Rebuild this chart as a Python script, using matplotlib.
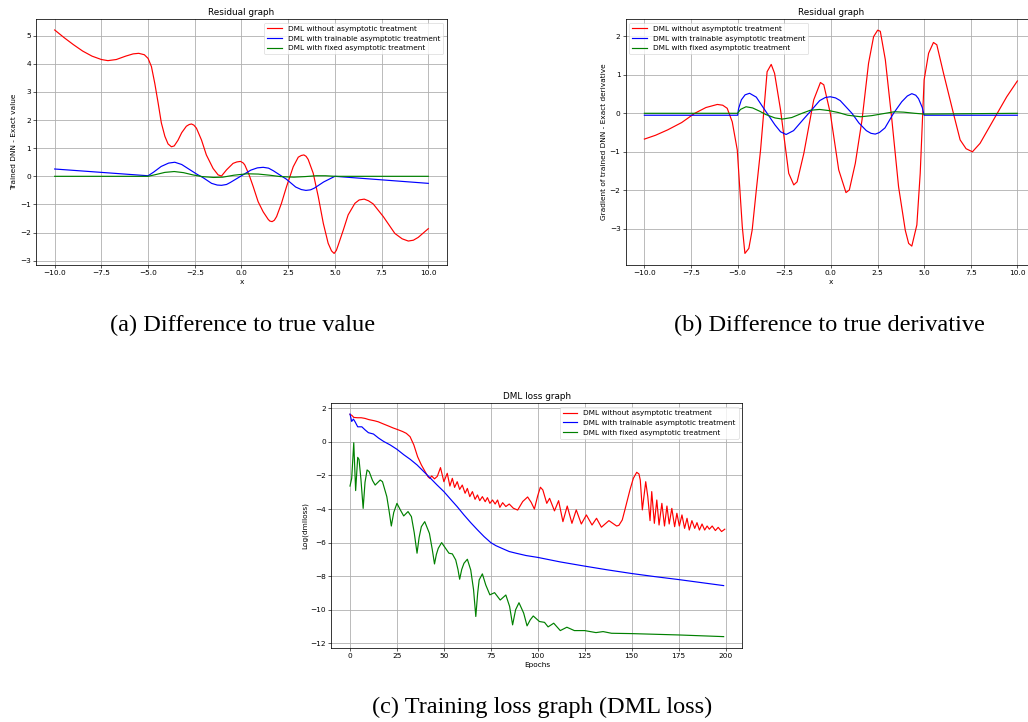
import matplotlib
matplotlib.use("Agg")
import matplotlib.pyplot as plt

# ---- (a) residual of value ----
a_red_x = [-10, -9.5, -9, -8.5, -8, -7.5, -7.15, -6.7, -6.2, -5.8, -5.5, -5.2, -5.0,
           -4.82, -4.64, -4.46, -4.29, -4.1, -3.93, -3.75, -3.6, -3.4, -3.2, -2.95, -2.8, -2.68,
           -2.55, -2.41, -2.14, -1.88, -1.52, -1.25, -1.07, -0.8, -0.45, -0.25, -0.05, 0.1, 0.18,
           0.41, 0.63, 0.89, 1.16, 1.43, 1.52, 1.64, 1.76, 1.88, 2.14, 2.41, 2.77, 3.04, 3.2, 3.34,
           3.46, 3.57, 3.84, 4.11, 4.38, 4.64, 4.82, 4.96, 5.08, 5.18, 5.45, 5.71, 6.07, 6.3, 6.57,
           6.8, 7.05, 7.59, 8.21, 8.6, 8.93, 9.2, 9.46, 10.0]
a_red_y = [5.20, 4.93, 4.68, 4.45, 4.27, 4.15, 4.11, 4.15, 4.27, 4.35, 4.37, 4.32, 4.19,
           3.90, 3.30, 2.60, 1.90, 1.42, 1.15, 1.05, 1.08, 1.28, 1.55, 1.78, 1.84, 1.86,
           1.82, 1.71, 1.29, 0.76, 0.28, 0.05, 0.01, 0.23, 0.46, 0.51, 0.53, 0.47, 0.40,
           0.05, -0.37, -0.90, -1.26, -1.53, -1.59, -1.61, -1.56, -1.43, -0.96, -0.37, 0.34, 0.68,
           0.74, 0.76, 0.71, 0.60, 0.11, -0.72, -1.67, -2.38, -2.65, -2.74, -2.63, -2.44, -1.91,
           -1.37, -0.96, -0.84, -0.81, -0.87, -0.98, -1.43, -2.03, -2.22, -2.30, -2.27, -2.17, -1.86]

a_blue_x = [-10, -5.0, -4.7, -4.3, -3.9, -3.57, -3.2, -2.8, -2.4, -2.05, -1.6, -1.3, -1.07,
            -0.8, -0.6, -0.05, 0.5, 0.85, 1.16, 1.45, 1.7, 2.4, 2.9, 3.2, 3.45, 3.7, 3.9, 4.4,
            5.0, 10]
a_blue_y = [0.26, 0.02, 0.15, 0.35, 0.47, 0.50, 0.42, 0.25, 0.08, -0.05, -0.25, -0.31, -0.32,
            -0.29, -0.22, 0.0, 0.22, 0.30, 0.32, 0.29, 0.20, -0.10, -0.38, -0.47, -0.50, -0.48,
            -0.42, -0.20, 0.0, -0.25]

a_green_x = [-10, -5.0, -4.6, -4.1, -3.6, -3.1, -2.6, -2.1, -1.5, -1.0, -0.4, 0.3, 0.9, 1.5,
             2.1, 2.8, 3.4, 4.0, 4.5, 5.0, 10]
a_green_y = [0, 0, 0.06, 0.14, 0.17, 0.13, 0.05, -0.01, -0.04, -0.03, 0.04, 0.09, 0.08, 0.04,
             -0.01, -0.03, -0.01, 0.02, 0.02, 0.0, 0]

# ---- (b) residual of derivative ----
b_red_x = [-10, -9.4, -8.75, -8.0, -7.3, -6.7, -6.09, -5.8, -5.56, -5.29, -5.02, -4.75, -4.61,
           -4.4, -4.22, -4.0, -3.77, -3.42, -3.2, -3.02, -2.7, -2.26, -1.99, -1.81, -1.45,
           -0.92, -0.56, -0.38, -0.03, 0.42, 0.81, 0.99, 1.31, 1.67, 2.02, 2.29, 2.51, 2.65,
           2.92, 3.27, 3.63, 3.99, 4.17, 4.34, 4.61, 4.79, 5.0, 5.24, 5.5, 5.68, 6.04, 6.57,
           6.93, 7.25, 7.59, 8.0, 8.72, 9.43, 10]
b_red_y = [-0.67, -0.57, -0.43, -0.24, 0.0, 0.15, 0.23, 0.21, 0.13, -0.22, -0.95, -2.95, -3.64,
           -3.51, -3.03, -2.0, -0.95, 1.08, 1.27, 1.04, 0.09, -1.56, -1.86, -1.78, -1.04,
           0.35, 0.80, 0.74, 0.0, -1.47, -2.06, -1.99, -1.30, -0.17, 1.30, 1.99, 2.16, 2.13,
           1.39, -0.17, -1.91, -3.04, -3.38, -3.45, -2.90, -1.56, 0.87, 1.56, 1.84, 1.78, 1.04, 0.0,
           -0.69, -0.92, -1.0, -0.78, -0.17, 0.43, 0.84]

b_blue_x = [-10, -5.0, -4.95, -4.8, -4.6, -4.36, -4.0, -3.7, -3.42, -3.0, -2.7, -2.4, -2.0,
            -1.5, -1.19, -0.6, -0.3, -0.03, 0.25, 0.5, 1.13, 1.5, 1.9, 2.15, 2.38, 2.6, 2.9,
            3.36, 3.8, 4.1, 4.34, 4.55, 4.7, 4.9, 5.0, 10]
b_blue_y = [-0.05, -0.05, 0.12, 0.35, 0.48, 0.52, 0.42, 0.20, 0.0, -0.30, -0.48, -0.55, -0.45,
            -0.17, 0.0, 0.33, 0.41, 0.43, 0.40, 0.33, 0.0, -0.25, -0.45, -0.52, -0.54, -0.50,
            -0.38, 0.0, 0.30, 0.45, 0.51, 0.47, 0.38, 0.15, -0.05, -0.05]

b_green_x = [-10, -5.0, -4.85, -4.55, -4.2, -3.8, -3.5, -3.0, -2.6, -2.1, -1.6, -1.1, -0.6,
             -0.1, 0.4, 0.9, 1.6, 2.2, 2.8, 3.4, 3.9, 4.5, 5.0, 10]
b_green_y = [0.0, 0.0, 0.10, 0.17, 0.14, 0.05, -0.03, -0.12, -0.15, -0.11, -0.01, 0.08, 0.10,
             0.07, 0.02, -0.05, -0.09, -0.06, -0.01, 0.04, 0.03, 0.0, -0.02, 0.0]

# ---- (c) DML loss ----
c_red_x = [0, 1, 2, 4, 6, 8, 10, 13, 15, 18, 20, 23, 25, 28, 30, 32, 34, 36, 38, 40, 41.5,
           42.5, 43.5, 45, 46.5, 48.2, 50, 51.8, 53.2, 54.5, 55.7, 57.1, 58.4, 59.8, 61.3, 62.5,
           63.8, 65.2, 66.6, 67.9, 69.1, 70.5, 72, 73.2, 74.5, 75.9, 77.3, 78.6, 79.8, 81.3, 83,
           84.8, 87, 89.3, 92, 94.6, 96.5, 98.2, 100, 101.4, 102.7, 104.8, 106.3, 108.9, 111.1,
           113.4, 115.7, 118.2, 120.5, 123.2, 125.9, 128.9, 131.3, 133.9, 137.9, 142.0, 143.2,
           145.0, 146.4, 149.1, 150.9, 152.7, 153.9, 154.6, 155.7, 157.5, 158.6, 159.8, 160.7,
           162.1, 163.4, 164.6, 166.1, 167.5, 168.8, 170.0, 171.4, 172.9, 174.1, 175.4, 176.8,
           178.2, 179.5, 180.7, 182.1, 183.6, 184.8, 186.1, 187.5, 188.9, 190.2, 191.4, 192.9,
           194.6, 196.1, 197.9, 199.6]
c_red_y = [1.64, 1.58, 1.46, 1.44, 1.44, 1.40, 1.33, 1.26, 1.20, 1.06, 0.97, 0.83, 0.75, 0.62,
           0.51, 0.31, -0.18, -0.88, -1.37, -1.77, -2.07, -2.17, -2.03, -2.20, -2.05, -1.53,
           -2.37, -1.87, -2.63, -2.17, -2.71, -2.37, -2.83, -2.57, -3.06, -2.77, -3.26, -2.96,
           -3.42, -3.16, -3.50, -3.26, -3.56, -3.32, -3.66, -3.46, -3.70, -3.46, -3.90, -3.62,
           -3.85, -3.70, -3.95, -4.06, -3.55, -3.28, -3.60, -4.00, -3.20, -2.70, -2.86, -3.66,
           -3.36, -4.11, -3.50, -4.75, -3.82, -4.85, -4.05, -4.89, -4.35, -4.95, -4.55, -5.08,
           -4.69, -5.01, -4.97, -4.65, -4.05, -2.86, -2.17, -1.81, -1.91, -2.27, -4.05, -2.37,
           -3.26, -4.69, -2.96, -4.85, -3.46, -4.95, -3.66, -5.01, -3.82, -4.89, -3.96, -5.05,
           -4.25, -5.01, -4.35, -5.15, -4.55, -5.25, -4.69, -5.15, -4.81, -5.25, -4.89, -5.25,
           -5.01, -5.20, -5.01, -5.28, -5.09, -5.34, -5.20]

c_blue_x = [0, 0.9, 1.8, 2.7, 4.1, 6.3, 8, 9.8, 12.5, 15.2, 17.9, 21.4, 25, 28.6, 32.1, 35.7,
            39.3, 42.9, 46.4, 50, 53.6, 57.1, 60.7, 64.3, 67.9, 71.4, 75, 77.7, 81.3, 84.8,
            88.4, 93.8, 100, 112, 125, 137, 150, 162, 175, 187, 199]
c_blue_y = [1.66, 1.22, 1.36, 1.20, 0.90, 0.90, 0.72, 0.55, 0.47, 0.23, 0.03, -0.18, -0.44,
            -0.76, -1.04, -1.37, -1.77, -2.17, -2.57, -2.96, -3.42, -3.86, -4.35, -4.81, -5.24,
            -5.64, -6.00, -6.18, -6.36, -6.53, -6.63, -6.77, -6.88, -7.15, -7.40, -7.62, -7.84,
            -8.02, -8.20, -8.38, -8.56]

c_green_x = [0, 0.9, 2.0, 3.0, 4.1, 4.8, 5.8, 7.0, 8.0, 9.1, 10.2, 12.0, 13.4, 16.1, 17.3,
             19.6, 20.8, 22.0, 23.3, 25, 26.8, 28.6, 30.9, 32.7, 34.2, 35.7, 36.8, 38.0, 39.8,
             42.3, 43.8, 45, 46.0, 47, 48.8, 50.9, 52.7, 54.5, 56.3, 57.5, 58.4, 59.5, 60.7,
             62.5, 64.3, 65.8, 67, 68.0, 68.8, 70.5, 72.3, 74.5, 77, 80, 83, 85.0, 86.6, 88.2,
             90, 92.5, 94.3, 96.0, 97.6, 100.9, 103.6, 105.5, 108.5, 112, 115.5, 119.5, 125,
             128, 131, 134.8, 139.3, 150, 175, 199]
c_green_y = [-2.63, -2.17, -0.05, -2.90, -0.92, -1.04, -2.20, -3.96, -2.40, -1.67, -1.77,
             -2.30, -2.57, -2.27, -2.37, -3.26, -4.10, -5.01, -4.20, -3.66, -4.05, -4.41, -4.15,
             -4.45, -5.40, -6.63, -5.70, -5.05, -4.75, -5.45, -6.40, -7.27, -6.70, -6.34, -6.00,
             -6.34, -6.63, -6.67, -7.03, -7.60, -8.18, -7.60, -7.23, -6.99, -7.63, -8.80, -10.40,
             -9.00, -8.22, -7.86, -8.52, -9.11, -8.98, -9.42, -9.12, -9.80, -10.90, -10.00,
             -9.58, -10.20, -10.96, -10.60, -10.37, -10.70, -10.75, -11.02, -10.80, -11.24,
             -11.04, -11.24, -11.24, -11.30, -11.36, -11.30, -11.40, -11.42, -11.50, -11.60]

labels = ["DML without asymptotic treatment",
          "DML with trainable asymptotic treatment",
          "DML with fixed asymptotic treatment"]
colors = ["red", "blue", "green"]

FS = 5.3
plt.rcParams["font.family"] = "DejaVu Sans"
plt.rcParams["axes.unicode_minus"] = True


def style_axes(ax, title, xlabel, ylabel):
    ax.set_title(title, fontsize=6.4, pad=3.2)
    ax.set_xlabel(xlabel, fontsize=FS, labelpad=2.0)
    ax.set_ylabel(ylabel, fontsize=FS, labelpad=2.0)
    ax.tick_params(labelsize=FS, length=1.9, width=0.45, pad=1.8)
    ax.grid(True, color="#b0b0b0", linewidth=0.6)
    for sp in ax.spines.values():
        sp.set_linewidth(0.55)


def draw(ax, series, loc):
    for (x, y), lab, col in zip(series, labels, colors):
        ax.plot(x, y, color=col, linewidth=0.85, label=lab)
    ax.legend(loc=loc, fontsize=FS, framealpha=0.8, borderpad=0.4,
              handlelength=2.0).get_frame().set_linewidth(0.45)


fig = plt.figure(figsize=(10.28, 7.22), dpi=100)

ax_a = fig.add_axes([0.0350, 0.6330, 0.3998, 0.3407])
draw(ax_a, [(a_red_x, a_red_y), (a_blue_x, a_blue_y), (a_green_x, a_green_y)], "upper right")
style_axes(ax_a, "Residual graph", "x", "Trained DNN - Exact value")
ax_a.set_xlim(-11, 11)
ax_a.set_ylim(-3.15, 5.59)

ax_b = fig.add_axes([0.6087, 0.6330, 0.3991, 0.3407])
draw(ax_b, [(b_red_x, b_red_y), (b_blue_x, b_blue_y), (b_green_x, b_green_y)], "upper left")
style_axes(ax_b, "Residual graph", "x", "Gradient of trained DNN - Exact derivative")
ax_b.set_xlim(-11, 11)
ax_b.set_ylim(-3.94, 2.45)

ax_c = fig.add_axes([0.3223, 0.1029, 0.3998, 0.3385])
draw(ax_c, [(c_red_x, c_red_y), (c_blue_x, c_blue_y), (c_green_x, c_green_y)], "upper right")
style_axes(ax_c, "DML loss graph", "Epochs", "Log(dmlloss)")
ax_c.set_xlim(-9.95, 208.95)
ax_c.set_ylim(-12.26, 2.30)

cap = dict(fontsize=17.5, family="Liberation Serif", ha="center", va="baseline")
fig.text(0.2359, 0.5420, "(a) Difference to true value", **cap)
fig.text(0.8064, 0.5420, "(b) Difference to true derivative", **cap)
fig.text(0.5269, 0.01205, "(c) Training loss graph (DML loss)", **cap)

fig.savefig("out.png", dpi=100)
